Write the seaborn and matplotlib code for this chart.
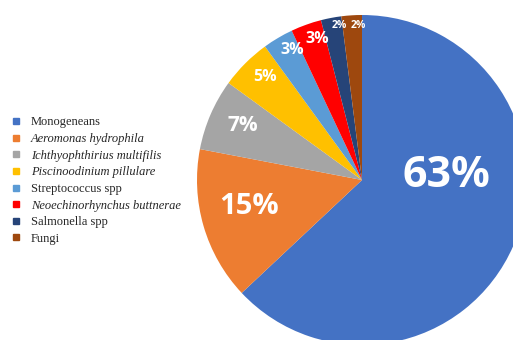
import matplotlib
matplotlib.use("Agg")
import matplotlib.pyplot as plt
from matplotlib.lines import Line2D
import seaborn as sns

# Share of reported disease agents
agents = [
    "Monogeneans",
    "Aeromonas hydrophila",
    "Ichthyophthirius multifilis",
    "Piscinoodinium pillulare",
    "Streptococcus spp",
    "Neoechinorhynchus buttnerae",
    "Salmonella spp",
    "Fungi",
]
shares = [63, 15, 7, 5, 3, 3, 2, 2]
italic_names = [False, True, True, True, False, True, False, False]
hex_colors = ["#4472C4", "#ED7D31", "#A5A5A5", "#FFC000",
              "#5B9BD5", "#FF0000", "#264478", "#9E480E"]

sns.set_theme(style="white")
palette = sns.color_palette(hex_colors)

# Label placement (in units of pie radius, relative to the centre) and sizes
label_pos = [(0.51, 0.03), (-0.685, -0.16), (-0.72, 0.33), (-0.59, 0.625),
             (-0.425, 0.785), (-0.27, 0.855), (-0.14, 0.935), (-0.025, 0.935)]
label_size = [31, 21, 15, 11.5, 11.5, 11.5, 7.5, 7.5]

W, H = 513, 340
fig = plt.figure(figsize=(W / 100, H / 100), dpi=100)
ax = fig.add_axes([0, 0, 1, 1])

cx, cy, R = 362, 160, 165
wedges, _ = ax.pie(shares, colors=palette, startangle=90, counterclock=False,
                   center=(cx, cy), radius=R, frame=True,
                   wedgeprops=dict(linewidth=0))
ax.set_xlim(0, W)
ax.set_ylim(0, H)
ax.set_aspect("equal")
ax.axis("off")

for val, (px, py), fs in zip(shares, label_pos, label_size):
    ax.text(cx + px * R, cy + py * R, f"{val}%", ha="center", va="center",
            color="white", fontsize=fs, fontweight="bold", family="Open Sans")

handles = [Line2D([0], [0], marker="s", linestyle="none", markersize=4.5,
                  markerfacecolor=c, markeredgecolor=c) for c in palette]
leg = fig.legend(handles, agents, loc="upper left", bbox_to_anchor=(0.010, 0.676),
                 frameon=False, handlelength=0.8, handletextpad=0.75,
                 labelspacing=0.37, borderpad=0,
                 prop=dict(family="Liberation Serif", size=9))
for txt, it in zip(leg.get_texts(), italic_names):
    if it:
        txt.set_fontstyle("italic")

fig.savefig("out.png", dpi=100)
